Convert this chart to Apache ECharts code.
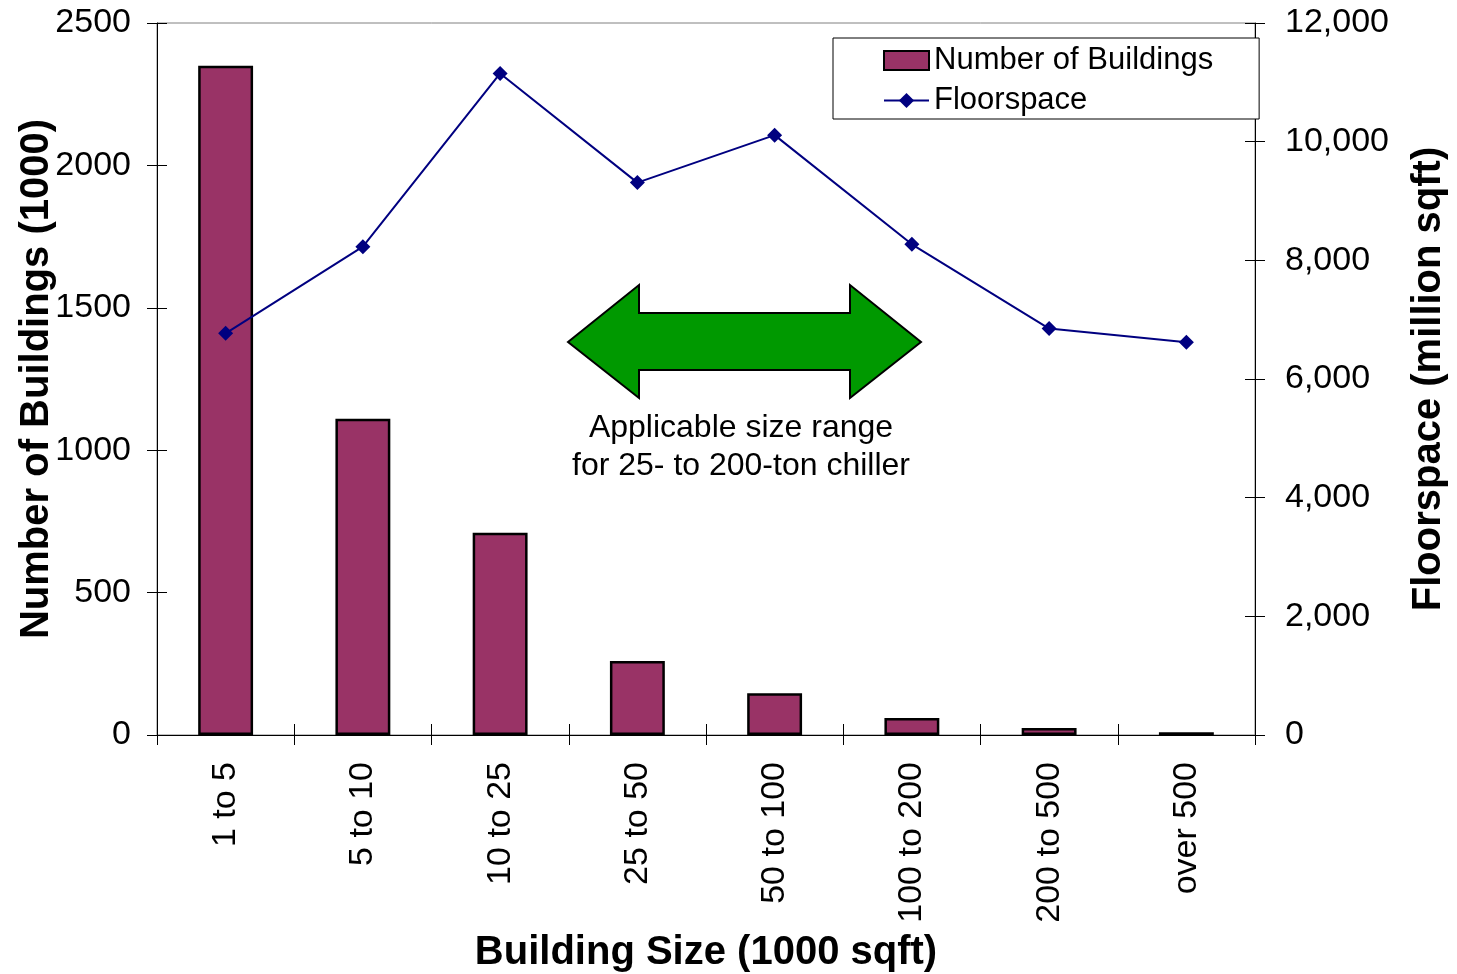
<!DOCTYPE html>
<html>
<head>
<meta charset="utf-8">
<script src="https://cdn.jsdelivr.net/npm/echarts@6/dist/echarts.min.js"></script>
<style>
html,body{margin:0;padding:0;background:#fff;}
#chart{width:1457px;height:974px;}
</style>
</head>
<body>
<div id="chart"></div>
<script>
var categories = ['1 to 5', '5 to 10', '10 to 25', '25 to 50', '50 to 100', '100 to 200', '200 to 500', 'over 500'];
var buildings = [2350, 1110, 710, 260, 147, 60, 25, 10];
var floorspace = [6770, 8230, 11150, 9310, 10110, 8270, 6850, 6620];
var leftTicks = [0, 500, 1000, 1500, 2000, 2500];
var rightTicks = [0, 2000, 4000, 6000, 8000, 10000, 12000];

var FONT = '"Liberation Sans", Arial, sans-serif';
var chart = echarts.init(document.getElementById('chart'));

var axisLineStyle = {show: true, lineStyle: {color: '#000', width: 1}};

var option = {
  backgroundColor: '#fff',
  animation: false,
  textStyle: {fontFamily: FONT},
  grid: {left: 157, right: 202, top: 23, bottom: 239, show: true, borderColor: '#808080', borderWidth: 1,
    containLabel: false, outerBoundsMode: 'none'},
  legend: {
    orient: 'vertical', left: 833, top: 38,
    backgroundColor: '#fff', borderColor: '#000', borderWidth: 1,
    padding: [7, 46, 3, 50],
    itemWidth: 45, itemHeight: 19, itemGap: 9,
    textStyle: {fontFamily: FONT, fontSize: 31, color: '#000'},
    data: [
      {name: 'Number of Buildings', icon: 'rect'},
      {name: 'Floorspace'}
    ]
  },
  xAxis: [{
    type: 'category', data: categories, position: 'bottom',
    axisLine: axisLineStyle,
    axisTick: {show: true, length: 10, lineStyle: {color: '#000'}},
    axisLabel: {rotate: 90, fontSize: 34, color: '#000', margin: 27, fontFamily: FONT},
    name: 'Building Size (1000 sqft)', nameLocation: 'middle', nameGap: 198, nameMoveOverlap: false,
    nameTextStyle: {fontSize: 40, fontWeight: 'bold', color: '#000', fontFamily: FONT}
  }, {
    type: 'category', data: categories, position: 'bottom',
    axisLine: {show: false},
    axisTick: {show: true, inside: true, length: 11, lineStyle: {color: '#000'}},
    axisLabel: {show: false}
  }],
  yAxis: [{
    type: 'value', min: 0, max: 2500, interval: 500, position: 'left',
    axisLine: axisLineStyle,
    axisTick: {show: true, length: 10, lineStyle: {color: '#000'}},
    splitLine: {show: false},
    axisLabel: {fontSize: 34, color: '#000', margin: 26, fontFamily: FONT,
      formatter: function (v) { return leftTicks.indexOf(v) >= 0 ? String(v) : ''; }},
    name: 'Number of Buildings (1000)', nameLocation: 'middle', nameGap: 100, nameMoveOverlap: false,
    nameTextStyle: {fontSize: 40, fontWeight: 'bold', color: '#000', fontFamily: FONT}
  }, {
    type: 'value', min: 0, max: 12000, interval: 2000, position: 'right',
    axisLine: axisLineStyle,
    axisTick: {show: true, length: 10, lineStyle: {color: '#000'}},
    splitLine: {show: false},
    axisLabel: {fontSize: 34, color: '#000', margin: 30, fontFamily: FONT,
      formatter: function (v) { return rightTicks.indexOf(v) >= 0 ? v.toLocaleString('en-US') : ''; }},
    name: 'Floorspace (million sqft)', nameLocation: 'middle', nameGap: 154, nameRotate: 90, nameMoveOverlap: false,
    nameTextStyle: {fontSize: 40, fontWeight: 'bold', color: '#000', fontFamily: FONT}
  }, {
    type: 'value', min: 0, max: 2500, interval: 500, position: 'left',
    axisLine: {show: false}, splitLine: {show: false}, axisLabel: {show: false},
    axisTick: {show: true, inside: true, length: 10, lineStyle: {color: '#000'}}
  }, {
    type: 'value', min: 0, max: 12000, interval: 2000, position: 'right',
    axisLine: {show: false}, splitLine: {show: false}, axisLabel: {show: false},
    axisTick: {show: true, inside: true, length: 10, lineStyle: {color: '#000'}}
  }],
  series: [{
    name: 'Number of Buildings', type: 'bar', xAxisIndex: 0, yAxisIndex: 0,
    data: buildings, barWidth: '40%',
    itemStyle: {color: '#993366', borderColor: '#000', borderWidth: 2.5}
  }, {
    name: 'Floorspace', type: 'line', xAxisIndex: 0, yAxisIndex: 1,
    data: floorspace, symbol: 'diamond', symbolSize: 15,
    lineStyle: {color: '#000080', width: 2},
    itemStyle: {color: '#000080'}
  }],
  graphic: [{
    type: 'polygon',
    shape: {points: [[568, 342], [639, 285], [639, 313], [850, 313], [850, 285], [921, 342], [850, 398], [850, 370], [639, 370], [639, 398]]},
    style: {fill: '#009900', stroke: '#000', lineWidth: 2},
    z: 10
  }, {
    type: 'text', x: 741, y: 447,
    style: {text: 'Applicable size range\nfor 25- to 200-ton chiller', fill: '#000', font: '32px ' + FONT,
      align: 'center', verticalAlign: 'middle', lineHeight: 38},
    z: 10
  }]
};
chart.setOption(option);
</script>
</body>
</html>
